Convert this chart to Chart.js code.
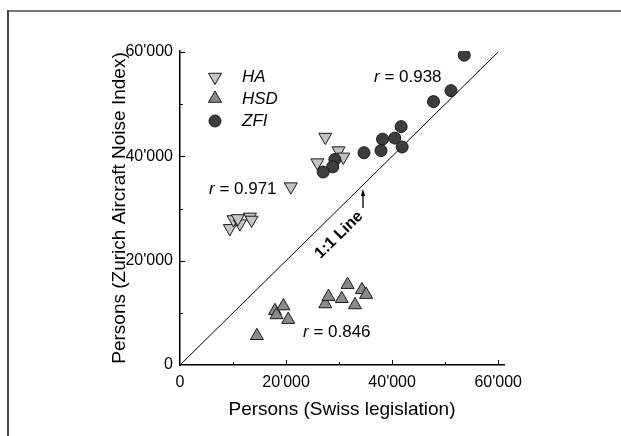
<!DOCTYPE html>
<html>
<head>
<meta charset="utf-8">
<script src="https://cdn.jsdelivr.net/npm/chart.js@4"></script>
<style>
  html, body { margin: 0; padding: 0; background: #fff; }
  #wrap { width: 621px; height: 436px; }
</style>
</head>
<body>
<div id="wrap"><canvas id="chart" width="621" height="436"></canvas></div>
<script>
// Persons counted under Swiss legislation (x) vs. under the Zurich Aircraft Noise Index (y)
const haSwiss  = [27400, 29900, 30800, 25900, 20900, 9400, 10100, 11300, 13200, 13500, 10900];
const haZfi    = [43700, 41100, 39900, 38800, 34200, 26200, 27900, 27100, 28400, 27800, 28100];

const hsdSwiss = [14500, 17900, 18200, 19500, 20400, 27400, 28000, 30500, 31600, 33000, 34300, 35100];
const hsdZfi   = [5600, 10400, 9600, 11300, 8700, 11700, 13100, 12700, 15400, 11500, 14400, 13500];

const zfiSwiss = [53600, 51100, 47800, 41700, 38200, 40500, 37900, 41900, 34700, 29200, 28800, 27000];
const zfiZfi   = [59400, 52600, 50500, 45700, 43300, 43500, 41100, 41800, 40700, 39400, 38000, 37000];

const identityLine = [0, 60000];

const seriesNames = ['HA', 'HSD', 'ZFI'];
const correlations = ['0.971', '0.846', '0.938'];

const xTicks = [0, 10000, 20000, 30000, 40000, 50000, 60000];
const yTicks = [0, 10000, 20000, 30000, 40000, 50000, 60000];

const FONT = "'Liberation Sans', Arial, Helvetica, sans-serif";

function toPoints(xs, ys) { return xs.map((x, i) => ({ x: x, y: ys[i] })); }
function fmt(v) {
  if (v % 20000 !== 0) return '';
  if (v === 0) return '0';
  const s = String(v);
  return s.slice(0, s.length - 3) + "'" + s.slice(s.length - 3);
}

const styles = {
  HA:  { pointStyle: 'triangle', rotation: 180, radius: 7.5, fill: '#c4c4c4' },
  HSD: { pointStyle: 'triangle', rotation: 0,   radius: 7.5, fill: '#8a8a8a' },
  ZFI: { pointStyle: 'circle',   rotation: 0,   radius: 6,   fill: '#3d3d3d' }
};

function scatterSet(name, xs, ys) {
  const st = styles[name];
  return {
    label: name,
    type: 'scatter',
    data: toPoints(xs, ys),
    pointStyle: st.pointStyle,
    rotation: st.rotation,
    pointRadius: st.radius,
    pointHoverRadius: st.radius,
    backgroundColor: st.fill,
    borderColor: '#1a1a1a',
    borderWidth: 1
  };
}

// Frame, inward tick marks, legend and annotations
const decorations = {
  id: 'decorations',
  afterDraw(chart) {
    const ctx = chart.ctx;
    const xs = chart.scales.x, ys = chart.scales.y;
    const area = chart.chartArea;
    ctx.save();

    // outer frame
    ctx.strokeStyle = '#7a7a7a';
    ctx.lineWidth = 2;
    ctx.beginPath();
    ctx.moveTo(621, 11);
    ctx.lineTo(8, 11);
    ctx.stroke();
    ctx.strokeStyle = '#4a4a4a';
    ctx.beginPath();
    ctx.moveTo(8, 10);
    ctx.lineTo(8, 436);
    ctx.stroke();

    // inward ticks
    ctx.strokeStyle = '#000';
    ctx.lineWidth = 1;
    xTicks.forEach(v => {
      if (v === 0) return;
      const px = Math.round(xs.getPixelForValue(v)) + 0.5;
      const len = v % 20000 === 0 ? 5 : 3;
      ctx.beginPath();
      ctx.moveTo(px, area.bottom);
      ctx.lineTo(px, area.bottom - len);
      ctx.stroke();
    });
    yTicks.forEach(v => {
      if (v === 0) return;
      const py = Math.round(ys.getPixelForValue(v)) + 0.5;
      const len = v % 20000 === 0 ? 5 : 3;
      ctx.beginPath();
      ctx.moveTo(area.left, py);
      ctx.lineTo(area.left + len, py);
      ctx.stroke();
    });

    // legend
    const legendRows = [77, 98.5, 121];
    seriesNames.forEach((name, i) => {
      const st = styles[name];
      ctx.fillStyle = st.fill;
      ctx.strokeStyle = '#1a1a1a';
      ctx.lineWidth = 1;
      Chart.helpers.drawPoint(ctx, {
        pointStyle: st.pointStyle, rotation: st.rotation,
        radius: st.radius, borderWidth: 1
      }, 215, legendRows[i]);
      ctx.fillStyle = '#000';
      ctx.font = 'italic 17px ' + FONT;
      ctx.textAlign = 'left';
      ctx.textBaseline = 'middle';
      ctx.fillText(name, 242, legendRows[i] + 0.5);
    });

    // correlation labels
    const rPos = { HA: [209, 189], HSD: [303, 332], ZFI: [374, 77] };
    seriesNames.forEach((name, i) => {
      const [tx, ty] = rPos[name];
      ctx.fillStyle = '#000';
      ctx.textBaseline = 'middle';
      ctx.textAlign = 'left';
      ctx.font = 'italic 17px ' + FONT;
      ctx.fillText('r', tx, ty);
      const w = ctx.measureText('r').width;
      ctx.font = '17px ' + FONT;
      ctx.fillText(' = ' + correlations[i], tx + w, ty);
    });

    // 1:1 line label
    ctx.save();
    ctx.translate(339, 235);
    ctx.rotate(-Math.atan2(ys.getPixelForValue(0) - ys.getPixelForValue(10000),
                           xs.getPixelForValue(10000) - xs.getPixelForValue(0)));
    ctx.font = 'bold 16px ' + FONT;
    ctx.textAlign = 'center';
    ctx.textBaseline = 'middle';
    ctx.fillStyle = '#000';
    ctx.fillText('1:1 Line', 0, 0);
    ctx.restore();

    // arrow pointing at the 1:1 line
    ctx.strokeStyle = '#000';
    ctx.fillStyle = '#000';
    ctx.lineWidth = 1.3;
    ctx.beginPath();
    ctx.moveTo(363, 208);
    ctx.lineTo(363, 194);
    ctx.stroke();
    ctx.beginPath();
    ctx.moveTo(363, 189);
    ctx.lineTo(360.8, 196);
    ctx.lineTo(365.2, 196);
    ctx.closePath();
    ctx.fill();

    ctx.restore();
  }
};

new Chart(document.getElementById('chart'), {
  type: 'scatter',
  data: {
    datasets: [
      scatterSet('ZFI', zfiSwiss, zfiZfi),
      scatterSet('HSD', hsdSwiss, hsdZfi),
      scatterSet('HA', haSwiss, haZfi),
      {
        label: '1:1 Line',
        type: 'line',
        data: toPoints(identityLine, identityLine),
        borderColor: '#000',
        borderWidth: 1,
        pointRadius: 0,
        fill: false,
        tension: 0
      }
    ]
  },
  options: {
    responsive: false,
    animation: false,
    devicePixelRatio: 1,
    layout: { padding: { left: 0, top: 51, right: 117, bottom: 0 } },
    plugins: { legend: { display: false }, tooltip: { enabled: false } },
    scales: {
      x: {
        type: 'linear',
        min: 0,
        max: 61100,
        afterBuildTicks: s => { s.ticks = xTicks.map(v => ({ value: v })); },
        afterFit: s => { s.height = 71; },
        grid: { display: true, drawOnChartArea: false, drawTicks: false },
        border: { display: true, color: '#000', width: 1.5 },
        ticks: {
          autoSkip: false, maxRotation: 0, padding: 8,
          color: '#000', font: { family: FONT, size: 16 },
          callback: v => fmt(v)
        },
        title: {
          display: true, text: 'Persons (Swiss legislation)',
          color: '#000', font: { family: FONT, size: 19 },
          padding: { top: 0, bottom: 15 }
        }
      },
      y: {
        type: 'linear',
        min: 0,
        max: 60200,
        afterBuildTicks: s => { s.ticks = yTicks.map(v => ({ value: v })); },
        afterFit: s => { s.width = 180; },
        grid: { display: true, drawOnChartArea: false, drawTicks: false },
        border: { display: true, color: '#000', width: 1.5 },
        ticks: {
          autoSkip: false, padding: 7,
          color: '#000', font: { family: FONT, size: 16 },
          callback: v => fmt(v)
        },
        title: {
          display: true, text: 'Persons (Zurich Aircraft Noise Index)',
          color: '#000', font: { family: FONT, size: 19 },
          padding: { top: 108, bottom: 0 }
        }
      }
    }
  },
  plugins: [decorations]
});
</script>
</body>
</html>
